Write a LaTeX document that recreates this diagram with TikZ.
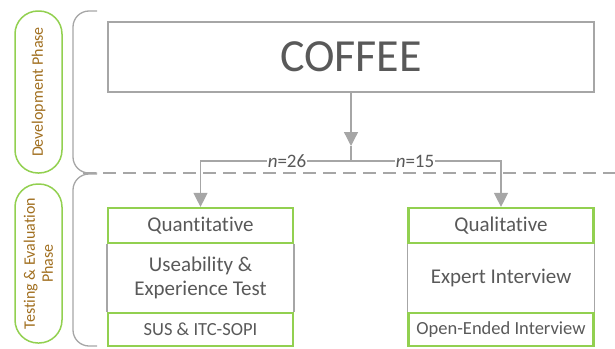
\documentclass[tikz,border=0pt]{standalone}
\usepackage{fontspec}
\setmainfont{Carlito}[Ligatures=NoCommon]
\usetikzlibrary{arrows.meta}
\definecolor{txtgray}{RGB}{89,89,89}
\definecolor{linegray}{RGB}{166,166,166}
\definecolor{leafgreen}{RGB}{146,208,80}
\definecolor{phasebrown}{RGB}{160,110,30}
\tikzset{
  phase/.style={draw=leafgreen, line width=1.5pt, rounded corners=23pt, rotate=90,
    minimum height=47pt, text=phasebrown, align=center, font=\fontsize{16}{18}\selectfont},
  gline/.style={draw=linegray, line width=1.3pt},
  garrow/.style={gline, -{Triangle[length=14pt,width=14pt]}, color=linegray},
  hdr/.style={draw=leafgreen, line width=2.2pt, minimum width=185pt, inner sep=0pt,
    text=txtgray},
}
\begin{document}
\begin{tikzpicture}[x=1pt, y=-1pt]
  \useasboundingbox (0,0) rectangle (615,348);
  % phases on the left
  \node[phase, minimum width=162pt] (devphase) at (38.5,92) {Development Phase};
  \node[phase, minimum width=159pt] (testphase) at (38.5,263.5) {Testing \& Evaluation\\Phase};
  \draw[gline, rounded corners=16pt] (97,11) -| (73,173) -- (97,173);
  \draw[gline, rounded corners=16pt] (97,174) -| (73,346) -- (97,346);
  \draw[gline, dash pattern=on 13pt off 7pt] (83,173) -- (615,173);
  % main box
  \node[draw=linegray, line width=1.3pt, minimum width=486pt, minimum height=70pt,
    text=txtgray, font=\fontsize{46}{50}\selectfont] (coffee) at (351,57) {COFFEE};
  % left column
  \node[hdr, minimum height=35pt, font=\fontsize{21}{24}\selectfont] (quanthead) at (200.5,225.5) {Quantitative};
  \node[text=txtgray, align=center, font=\fontsize{21}{24}\selectfont] (quantbody) at (200.5,278) {Useability \&\\Experience Test};
  \node[hdr, minimum height=33pt, font=\fontsize{18.5}{20}\selectfont] (quantfoot) at (200.5,329.5) {SUS \& ITC-SOPI};
  \draw[gline] (quanthead.south west) -- (quantfoot.north west);
  \draw[gline] (quanthead.south east) -- (quantfoot.north east);
  % right column
  \node[hdr, minimum height=35pt, font=\fontsize{21}{24}\selectfont] (qualhead) at (501,225.5) {Qualitative};
  \node[text=txtgray, align=center, font=\fontsize{21}{24}\selectfont] (qualbody) at (501,278) {Expert Interview};
  \node[hdr, minimum height=33pt, font=\fontsize{18.5}{20}\selectfont] (qualfoot) at (501,329.5) {Open-Ended Interview};
  \draw[gline] (qualhead.south west) -- (qualfoot.north west);
  \draw[gline] (qualhead.south east) -- (qualfoot.north east);
  % connectors
  \coordinate (tip) at (351,146);
  \coordinate (split) at (351,161);
  \draw[garrow] (coffee.south) -- (tip);
  \draw[gline] (tip) -- (split);
  \draw[garrow] (split) -| (quanthead.north);
  \draw[garrow] (split) -| (qualhead.north);
  \node[fill=white, inner sep=1pt, text=txtgray, font=\fontsize{19}{21}\selectfont] (nleft) at (287,161) {\textit{n}=26};
  \node[fill=white, inner sep=1pt, text=txtgray, font=\fontsize{19}{21}\selectfont] (nright) at (415,161) {\textit{n}=15};
\end{tikzpicture}
\end{document}
